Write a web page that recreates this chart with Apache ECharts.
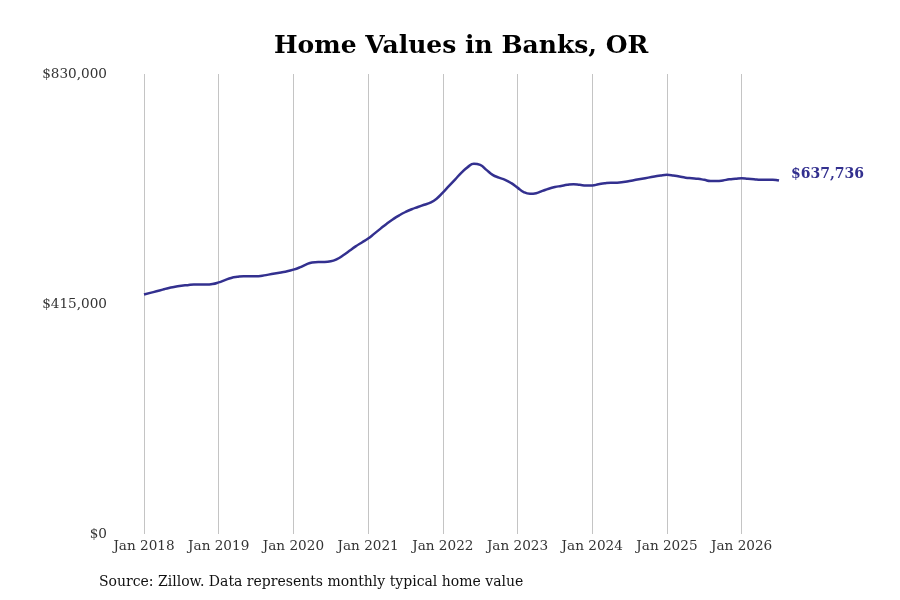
<!DOCTYPE html>
<html>
<head>
<meta charset="utf-8">
<script src="https://cdn.jsdelivr.net/npm/echarts@6/dist/echarts.min.js"></script>
<style>
  html, body { margin: 0; padding: 0; background: #fff; }
  #chart { width: 900px; height: 600px; }
</style>
</head>
<body>
<div id="chart"></div>
<script>
// monthly typical home value, Jan 2018 .. Jul 2026
const years = [2018, 2019, 2020, 2021, 2022, 2023, 2024, 2025, 2026];
const monthNames = ['Jan', 'Feb', 'Mar', 'Apr', 'May', 'Jun', 'Jul', 'Aug', 'Sep', 'Oct', 'Nov', 'Dec'];

const values2018 = [432000, 435000, 438000, 441000, 444000, 446000, 448000, 449000, 450000, 450000, 450000, 451000];
const values2019 = [454000, 458000, 462000, 464000, 465000, 465000, 465000, 466000, 468000, 470000, 472000, 474000];
const values2020 = [477000, 481000, 486000, 490000, 491000, 491000, 492000, 496000, 503000, 511000, 519000, 526000];
const values2021 = [533000, 542000, 551000, 560000, 568000, 575000, 581000, 586000, 590000, 594000, 598000, 605000];
const values2022 = [616000, 628000, 640000, 652000, 662000, 668000, 666000, 657000, 648000, 643000, 639000, 633000];
const values2023 = [625000, 617000, 614000, 615000, 619000, 623000, 626000, 628000, 630000, 631000, 630000, 629000];
const values2024 = [629000, 631000, 633000, 634000, 634000, 635000, 637000, 639000, 641000, 643000, 645000, 647000];
const values2025 = [648000, 647000, 645000, 643000, 642000, 641000, 639000, 637000, 637000, 638000, 640000, 641000];
const values2026 = [642000, 641000, 640000, 639000, 639000, 639000, 637736];

const yTicks = [0, 415000, 830000];

const values = [].concat(values2018, values2019, values2020, values2021, values2022,
    values2023, values2024, values2025, values2026);
const categories = values.map((v, i) => monthNames[i % 12] + ' ' + years[Math.floor(i / 12)]);

const serif = '"DejaVu Serif", serif';
const money = v => '$' + Math.round(v).toLocaleString('en-US');
const isJan = (idx) => idx % 12 === 0;

const chart = echarts.init(document.getElementById('chart'));
chart.setOption({
    animation: false,
    backgroundColor: '#fff',
    title: {
        text: 'Home Values in Banks, OR',
        left: 269,
        top: 29,
        textStyle: { fontFamily: serif, fontSize: 25, fontWeight: 'bold', color: '#000' }
    },
    graphic: [{
        type: 'text',
        left: 99,
        top: 575,
        style: {
            text: 'Source: Zillow. Data represents monthly typical home value',
            font: '14px "DejaVu Serif", serif',
            fill: '#111'
        }
    }],
    grid: { left: 144, right: 121, top: 74, bottom: 66 },
    xAxis: {
        type: 'category',
        data: categories,
        boundaryGap: false,
        axisLine: { show: false },
        axisTick: { show: false },
        axisLabel: {
            interval: isJan,
            fontFamily: serif,
            fontSize: 13.6,
            color: '#333',
            margin: 5
        },
        splitLine: {
            show: true,
            interval: isJan,
            lineStyle: { color: '#c4c4c4', width: 1 }
        }
    },
    yAxis: {
        type: 'value',
        min: yTicks[0],
        max: yTicks[yTicks.length - 1],
        interval: yTicks[1] - yTicks[0],
        axisLine: { show: false },
        axisTick: { show: false },
        splitLine: { show: false },
        axisLabel: {
            formatter: money,
            fontFamily: serif,
            fontSize: 13.6,
            color: '#333',
            margin: 37
        }
    },
    series: [{
        type: 'line',
        data: values,
        smooth: true,
        showSymbol: false,
        lineStyle: { color: '#33308f', width: 2.5 },
        itemStyle: { color: '#33308f' },
        endLabel: {
            show: true,
            formatter: p => money(p.value),
            fontFamily: serif,
            fontSize: 14,
            fontWeight: 'bold',
            color: '#33308f',
            distance: 12,
            offset: [0, -6]
        }
    }]
});
</script>
</body>
</html>
